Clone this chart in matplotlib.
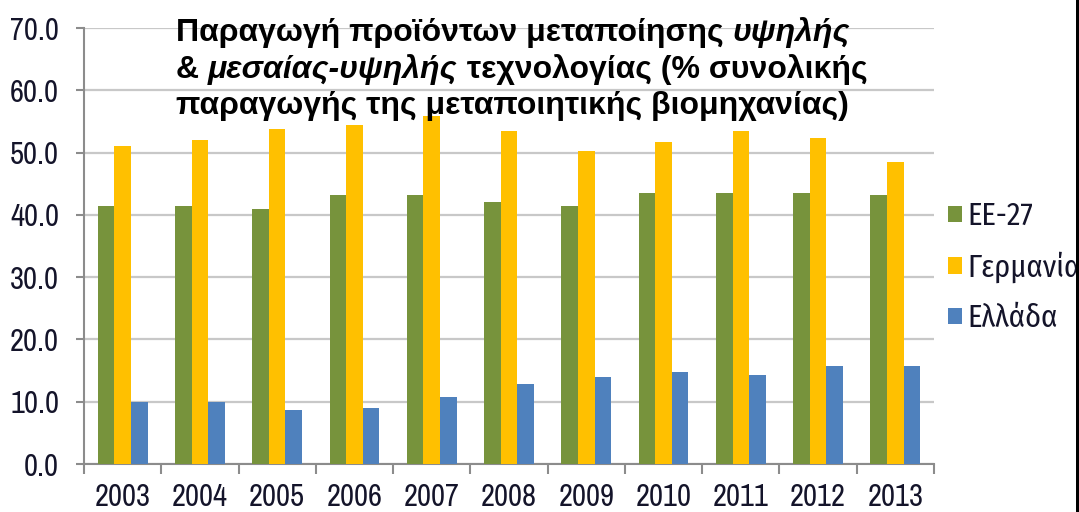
import matplotlib
matplotlib.use("Agg")
import matplotlib.pyplot as plt
import numpy as np

years = ["2003", "2004", "2005", "2006", "2007", "2008", "2009", "2010", "2011", "2012", "2013"]
eu27 = [41.4, 41.4, 41.0, 43.2, 43.2, 42.1, 41.4, 43.5, 43.5, 43.5, 43.2]
germany = [51.0, 52.0, 53.8, 54.5, 55.9, 53.5, 50.2, 51.7, 53.5, 52.4, 48.5]
greece = [10.0, 10.0, 8.6, 9.0, 10.7, 12.9, 13.9, 14.7, 14.3, 15.7, 15.7]
series_names = ["ΕΕ-27", "Γερμανία", "Ελλάδα"]
colors = ["#77933C", "#FFC000", "#4F81BD"]
yticks = [0, 10, 20, 30, 40, 50, 60, 70]

tick_fam = ["Archivo Narrow", "Fira Sans Condensed", "DejaVu Sans"]
leg_fam = ["Fira Sans Condensed", "DejaVu Sans"]
txt_col = "#14142a"

fig = plt.figure(figsize=(10.79, 5.12), dpi=100)
ax = fig.add_axes([84/1079, 1-464/512, (934-84)/1079, (464-28)/512])

x = np.arange(len(years))
w = 0.215
for i, (vals, c, nm) in enumerate(zip([eu27, germany, greece], colors, series_names)):
    ax.bar(x + (i-1)*w, vals, width=w, color=c, label=nm, zorder=3)

ax.set_xlim(-0.5, len(years)-0.5)
ax.set_ylim(0, 70)
ax.set_yticks(yticks)
ax.set_yticklabels([f"{v:.1f}" for v in yticks])
ax.yaxis.grid(True, color="#C8C8C8", lw=1.6, zorder=0)
ax.set_axisbelow(True)
for s in ["top", "right"]:
    ax.spines[s].set_visible(False)
for s in ["left", "bottom"]:
    ax.spines[s].set_color("#8C8C8C")
    ax.spines[s].set_linewidth(1.5)

ax.set_xticks(x)
ax.set_xticklabels(years)
ax.set_xticks(np.arange(-0.5, len(years)), minor=True)
ax.tick_params(axis="x", which="major", length=0, pad=14)
ax.tick_params(axis="x", which="minor", length=7, width=1.5, color="#8C8C8C", direction="out")
ax.tick_params(axis="y", length=6, width=1.5, color="#8C8C8C", pad=12)
for lab in ax.get_xticklabels() + ax.get_yticklabels():
    lab.set_fontfamily(tick_fam)
    lab.set_fontsize(22)
    lab.set_color(txt_col)

leg = ax.legend(loc="center left", bbox_to_anchor=(948/1079, 1-267/512),
                bbox_transform=fig.transFigure, frameon=False,
                handlelength=0.46, handleheight=0.46, handletextpad=0.18,
                labelspacing=0.66, borderaxespad=0, borderpad=0,
                prop={"family": leg_fam, "size": 22})
for t in leg.get_texts():
    t.set_color(txt_col)

# title with mixed bold / bold-italic pieces
fs = 23
fam = ["Liberation Sans", "DejaVu Sans"]
lines = [
    [("Παραγωγή προϊόντων μεταποίησης ", "normal"), ("υψηλής", "italic")],
    [("& ", "normal"), ("μεσαίας-υψηλής", "italic"), (" τεχνολογίας (% συνολικής", "normal")],
    [("παραγωγής της μεταποιητικής βιομηχανίας)", "normal")],
]
baselines = [41, 78, 114]
for pieces, yb in zip(lines, baselines):
    prev = None
    for txt, style in pieces:
        if prev is None:
            prev = fig.text(176/1079, 1-yb/512, txt, fontsize=fs, fontweight="bold",
                            fontstyle=style, family=fam, va="baseline", ha="left", color="black")
        else:
            prev = ax.annotate(txt, xy=(1, 0), xycoords=prev, fontsize=fs, fontweight="bold",
                               fontstyle=style, family=fam, va="bottom", ha="left", color="black",
                               annotation_clip=False)

fig.add_artist(plt.Rectangle((1076/1079, 0), 3/1079, 1, transform=fig.transFigure,
                             color="black", lw=0))

fig.savefig("out.png", dpi=100)
